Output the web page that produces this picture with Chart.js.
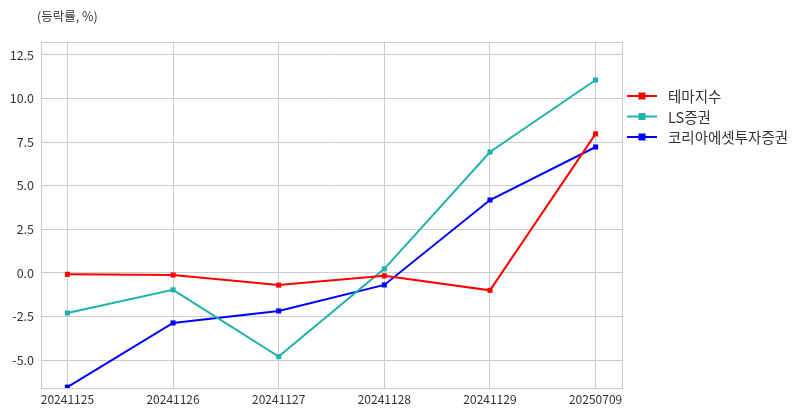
<!DOCTYPE html>
<html><head><meta charset="utf-8">
<script src="https://cdn.jsdelivr.net/npm/chart.js@4"></script>
<style>html,body{margin:0;padding:0;background:#fff}#wrap{width:806px;height:416px;position:relative}</style>
</head><body><div id="wrap"><canvas id="c" width="806" height="416"></canvas></div>
<script>
const categories = ['20241125','20241126','20241127','20241128','20241129','20250709'];
const themeIndex = [-0.08, -0.12, -0.7, -0.17, -1.0, 7.97];
const lsSec = [-2.3, -0.97, -4.8, 0.23, 6.93, 11.06];
const koreaAsset = [-6.55, -2.87, -2.18, -0.69, 4.18, 7.22];
const seriesNames = ['테마지수', 'LS증권', '코리아에셋투자증권'];
const seriesColors = ['#ff0000', '#20b2aa', '#0000ff'];
const yTicks = [-5.0, -2.5, 0.0, 2.5, 5.0, 7.5, 10.0, 12.5];
const yLabel = '(등락률, %)';
const FONT = "'Noto Sans CJK KR', 'Noto Sans', sans-serif";

const seriesValues = [themeIndex, lsSec, koreaAsset];
const datasets = seriesValues.map((vals, k) => ({
  label: seriesNames[k],
  data: vals.map((v, i) => ({x: i, y: v})),
  borderColor: seriesColors[k],
  backgroundColor: seriesColors[k],
  borderWidth: 2,
  pointStyle: 'rect',
  pointRadius: 3.6,
  pointHoverRadius: 3.6,
  pointBorderWidth: 0,
  tension: 0
}));

const extras = {
  id: 'extras',
  beforeDatasetsDraw(chart) {
    const {ctx, chartArea: a} = chart;
    ctx.save();
    ctx.strokeStyle = '#cccccc';
    ctx.lineWidth = 1;
    ctx.strokeRect(Math.round(a.left)+0.5, Math.round(a.top)+0.5, Math.round(a.right-a.left), Math.round(a.bottom-a.top));
    ctx.restore();
  },
  afterDraw(chart) {
    const {ctx, chartArea: a} = chart;
    ctx.save();
    ctx.font = '12.5px ' + FONT;
    ctx.fillStyle = '#333333';
    ctx.textBaseline = 'middle';
    ctx.textAlign = 'left';
    ctx.fillText(yLabel, 37, 16);
    // legend
    ctx.font = '14.5px ' + FONT;
    chart.data.datasets.forEach((ds, k) => {
      const y = 96 + k * 20.5;
      ctx.strokeStyle = ds.borderColor;
      ctx.lineWidth = 2;
      ctx.beginPath(); ctx.moveTo(627, y); ctx.lineTo(657, y); ctx.stroke();
      ctx.fillStyle = ds.borderColor;
      ctx.fillRect(638.5, y - 3.5, 7, 7);
      ctx.fillStyle = '#333333';
      ctx.fillText(ds.label, 668, y + 0.5);
    });
    ctx.restore();
  }
};

new Chart(document.getElementById('c'), {
  type: 'line',
  data: {datasets},
  options: {
    responsive: false,
    animation: false,
    events: [],
    layout: {padding: {left: 0, top: 42, right: 184, bottom: 0}},
    plugins: {legend: {display: false}, tooltip: {enabled: false}, title: {display: false}},
    scales: {
      x: {
        type: 'linear', min: -0.25, max: 5.25,
        afterBuildTicks: s => { s.ticks = categories.map((c, i) => ({value: i})); },
        afterFit: s => { s.height = 28; },
        grid: {color: '#cccccc', drawTicks: false, lineWidth: 1},
        border: {display: false},
        ticks: {callback: v => categories[v], color: '#333333', font: {family: FONT, size: 12}, padding: 4, maxRotation: 0, autoSkip: false}
      },
      y: {
        type: 'linear', min: -6.6, max: 13.24,
        afterBuildTicks: s => { s.ticks = yTicks.map(v => ({value: v})); },
        afterFit: s => { s.width = 41; },
        grid: {color: '#cccccc', drawTicks: false, lineWidth: 1},
        border: {display: false},
        ticks: {callback: v => Number(v).toFixed(1), color: '#333333', font: {family: FONT, size: 12.5}, padding: 7}
      }
    }
  },
  plugins: [extras]
});
</script></body></html>
